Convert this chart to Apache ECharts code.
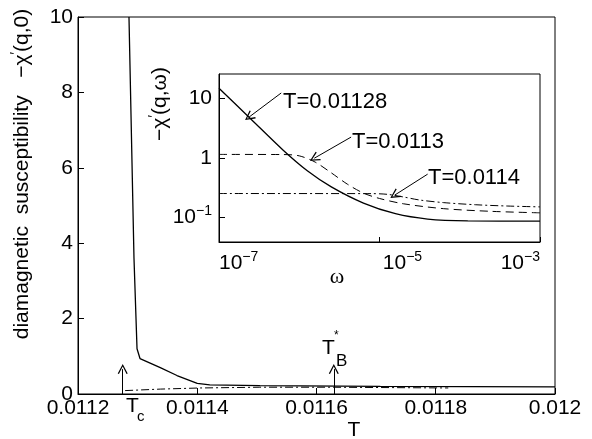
<!DOCTYPE html>
<html>
<head>
<meta charset="utf-8">
<script src="https://cdn.jsdelivr.net/npm/echarts@6/dist/echarts.min.js"></script>
<style>
html, body { margin: 0; background: #fff; }
#chart { width: 592px; height: 439px; }
</style>
</head>
<body>
<div id="chart"></div>
<script>
// main panel: -chi'(q,0) against T
const mainTSolid = [0.0112855, 0.0112939, 0.011299, 0.011304, 0.011321, 0.011338, 0.011366, 0.0114, 0.011421, 0.011505, 0.011707, 0.012]
const mainChiSolid = [10, 3.6, 1.2, 0.94, 0.82, 0.70, 0.49, 0.28, 0.24, 0.22, 0.20, 0.19]
const mainTDashDot = [0.011279, 0.011338, 0.011405, 0.011505, 0.011623, 0.011821]
const mainChiDashDot = [0.09, 0.13, 0.16, 0.18, 0.18, 0.16]
const tC = 0.011275
const tB = 0.011629

// inset: -chi'(q,omega) against omega, log-log
const omegaSolid = [1e-7, 2.51e-7, 6.31e-7, 1.26e-6, 2.51e-6, 6.31e-6, 1.58e-5, 3.98e-5, 1.26e-4, 1e-3]
const chiSolid = [14.8, 4.47, 1.35, 0.61, 0.327, 0.175, 0.116, 0.0944, 0.0881, 0.0871]
const omegaDashed = [1e-7, 6.31e-7, 1e-6, 1.58e-6, 2.51e-6, 3.98e-6, 6.31e-6, 1e-5, 2e-5, 6.31e-5, 2.51e-4, 1e-3]
const chiDashed = [1.146, 1.14, 1.084, 0.851, 0.562, 0.363, 0.257, 0.209, 0.17, 0.141, 0.127, 0.12]
const omegaDashDot = [1e-7, 7.94e-6, 1.26e-5, 2e-5, 3.16e-5, 6.31e-5, 1.58e-4, 3.98e-4, 1e-3]
const chiDashDot = [0.253, 0.252, 0.245, 0.221, 0.197, 0.178, 0.164, 0.156, 0.151]
const insetLabels = ['T=0.01128', 'T=0.0113', 'T=0.0114']

const zip = (xs, ys) => xs.map((x, i) => [x, ys[i]])
const font = 'Liberation Sans, Arial, sans-serif'
const chevron = 'path://M5,0 L10,10 L8.8,10.6 L5,2.6 L1.2,10.6 L0,10 Z'

const arrow = (from, to) => [{ coord: from }, { coord: to }]
const arrowStyle = {
  silent: true,
  symbol: ['none', chevron],
  symbolSize: [10, 10],
  label: { show: false },
  lineStyle: { color: '#000', type: 'solid', width: 1 },
  emphasis: { disabled: true }
}

const logLabel = v => {
  const e = Math.round(Math.log10(v))
  if (e === 1) return '{b|10}'
  if (e === 0) return '{b|1}'
  if (e === -5) return '{m|10}{s|−5}'
  return '{b|10}{s|−' + (-e) + '}'
}
const richLabel = {
  b: { fontSize: 21, fontFamily: font, color: '#000', lineHeight: 26 },
  m: { fontSize: 21, fontFamily: font, color: '#000', lineHeight: 26, padding: [0, 0, 0, 46] },
  s: { fontSize: 14, fontFamily: font, color: '#000', lineHeight: 14, verticalAlign: 'top' }
}

const chart = echarts.init(document.getElementById('chart'))
chart.setOption({
  animation: false,
  grid: [
    { left: 78, right: 37, top: 17, bottom: 45, show: true, borderColor: '#000', borderWidth: 1 },
    { left: 219, right: 52, top: 74, bottom: 197, show: true, borderColor: '#000', borderWidth: 1, backgroundColor: '#fff', z: 5 }
  ],
  xAxis: [
    {
      gridIndex: 0, type: 'value', min: 0.0112, max: 0.012, interval: 0.0002,
      axisLine: { lineStyle: { color: '#000' } },
      axisTick: { inside: true, length: 6, lineStyle: { color: '#000' } },
      axisLabel: { color: '#000', fontSize: 21, fontFamily: font, margin: 4, formatter: v => String(parseFloat(v.toFixed(4))) },
      splitLine: { show: false }
    },
    {
      gridIndex: 1, type: 'log', logBase: 10, min: 1e-7, max: 1e-3, z: 5,
      axisLine: { lineStyle: { color: '#000' } },
      axisTick: { inside: true, length: 5, customValues: [1e-7, 1e-5, 1e-3], lineStyle: { color: '#000' } },
      axisLabel: {
        margin: 8, customValues: [1e-7, 1e-5, 1e-3], formatter: logLabel, rich: richLabel,
        alignMinLabel: 'left', alignMaxLabel: 'right'
      },
      splitLine: { show: false }
    }
  ],
  yAxis: [
    {
      gridIndex: 0, type: 'value', min: 0, max: 10, interval: 2,
      axisLine: { lineStyle: { color: '#000' } },
      axisTick: { inside: true, length: 6, lineStyle: { color: '#000' } },
      axisLabel: { color: '#000', fontSize: 21, fontFamily: font, margin: 5 },
      splitLine: { show: false }
    },
    {
      gridIndex: 1, type: 'log', logBase: 10, min: 0.0389, max: 25.6, z: 5,
      axisLine: { lineStyle: { color: '#000' } },
      axisTick: { inside: true, length: 6, customValues: [0.1, 1, 10], lineStyle: { color: '#000' } },
      axisLabel: { margin: 7, customValues: [0.1, 1, 10], formatter: logLabel, rich: richLabel },
      splitLine: { show: false }
    }
  ],
  series: [
    {
      type: 'line', xAxisIndex: 0, yAxisIndex: 0, symbol: 'none',
      lineStyle: { color: '#000', width: 1.3 },
      data: zip(mainTSolid, mainChiSolid),
      markLine: Object.assign({}, arrowStyle, { data: [arrow([tC, 0], [tC, 0.66]), arrow([tB, 0], [tB, 0.66])] })
    },
    {
      type: 'line', xAxisIndex: 0, yAxisIndex: 0, symbol: 'none',
      lineStyle: { color: '#000', width: 1, type: [8, 3, 2, 3] },
      data: zip(mainTDashDot, mainChiDashDot)
    },
    {
      type: 'line', xAxisIndex: 1, yAxisIndex: 1, symbol: 'none', smooth: 0.3, z: 6,
      lineStyle: { color: '#000', width: 1.3 },
      data: zip(omegaSolid, chiSolid),
      markLine: Object.assign({}, arrowStyle, {
        data: [
          arrow([5.96e-7, 12.3], [2.37e-7, 4.85]),
          arrow([4.43e-6, 2.24], [1.54e-6, 0.99]),
          arrow([3.98e-5, 0.535], [1.54e-5, 0.237])
        ]
      })
    },
    {
      type: 'line', xAxisIndex: 1, yAxisIndex: 1, symbol: 'none', smooth: 0.3, z: 6,
      lineStyle: { color: '#000', width: 1, type: [8, 5] },
      data: zip(omegaDashed, chiDashed)
    },
    {
      type: 'line', xAxisIndex: 1, yAxisIndex: 1, symbol: 'none', smooth: 0.3, z: 6,
      lineStyle: { color: '#000', width: 1, type: [8, 3, 2, 3] },
      data: zip(omegaDashDot, chiDashDot)
    }
  ],
  graphic: [
    {
      type: 'text', x: 22, y: 174, rotation: Math.PI / 2,
      style: {
        text: '{a|diamagnetic  susceptibility   −χ}{p|′}{a|(q,0)}',
        align: 'center', verticalAlign: 'middle', textAlign: 'center', textVerticalAlign: 'middle',
        rich: {
          a: { fontSize: 21, fontFamily: font, fill: '#000', lineHeight: 26 },
          p: { fontSize: 14, fontFamily: font, fill: '#000', lineHeight: 14, verticalAlign: 'top' }
        }
      }
    },
    {
      type: 'text', x: 160, y: 104, rotation: Math.PI / 2,
      style: {
        text: '{a|−χ}{p|′}{a|(q,ω)}',
        align: 'center', verticalAlign: 'middle', textAlign: 'center', textVerticalAlign: 'middle',
        rich: {
          a: { fontSize: 21, fontFamily: font, fill: '#000', lineHeight: 26 },
          p: { fontSize: 14, fontFamily: font, fill: '#000', lineHeight: 14, verticalAlign: 'top' }
        }
      }
    },
    { type: 'text', x: 354, y: 430, style: { text: 'T', font: '21px ' + font, fill: '#000', align: 'center', verticalAlign: 'middle', textAlign: 'center', textVerticalAlign: 'middle' } },
    { type: 'text', x: 337, y: 277, style: { text: 'ω', font: '22px Liberation Serif, serif', fill: '#000', align: 'center', verticalAlign: 'middle', textAlign: 'center', textVerticalAlign: 'middle' } },
    { type: 'text', x: 126, y: 406, style: { text: 'T', font: '21px ' + font, fill: '#000', verticalAlign: 'middle', textVerticalAlign: 'middle' } },
    { type: 'text', x: 137, y: 417, style: { text: 'c', font: '15px ' + font, fill: '#000', verticalAlign: 'middle', textVerticalAlign: 'middle' } },
    { type: 'text', x: 322, y: 348, style: { text: 'T', font: '21px ' + font, fill: '#000', verticalAlign: 'middle', textVerticalAlign: 'middle' } },
    { type: 'text', x: 334, y: 336, style: { text: '*', font: '12px ' + font, fill: '#000', verticalAlign: 'middle', textVerticalAlign: 'middle' } },
    { type: 'text', x: 336, y: 361, style: { text: 'B', font: '17px ' + font, fill: '#000', verticalAlign: 'middle', textVerticalAlign: 'middle' } },
    { type: 'text', x: 283, y: 102, z: 100, style: { text: insetLabels[0], font: '22px ' + font, fill: '#000', verticalAlign: 'middle', textVerticalAlign: 'middle' } },
    { type: 'text', x: 352, y: 142, z: 100, style: { text: insetLabels[1], font: '22px ' + font, fill: '#000', verticalAlign: 'middle', textVerticalAlign: 'middle' } },
    { type: 'text', x: 428, y: 178, z: 100, style: { text: insetLabels[2], font: '22px ' + font, fill: '#000', verticalAlign: 'middle', textVerticalAlign: 'middle' } }
  ]
})
</script>
</body>
</html>
